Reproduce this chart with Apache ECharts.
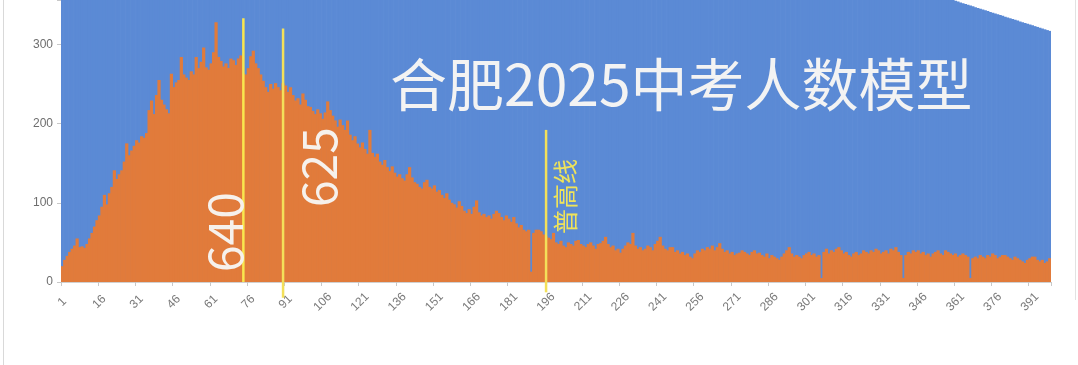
<!DOCTYPE html>
<html>
<head>
<meta charset="utf-8">
<script src="https://cdn.jsdelivr.net/npm/echarts@6/dist/echarts.min.js"></script>
<style>
html,body{margin:0;padding:0;background:#ffffff;}
#main{width:1078px;height:365px;}
</style>
</head>
<body>
<div id="main"></div>
<script>
// ---- data ----
const categories = [];
for (let i = 1; i <= 399; i++) categories.push(String(i));

const titleText = '合肥2025中考人数模型';

const yTicks = [0, 100, 200, 300];

// blue background series (mostly above the visible range)
const blueValues = [
715,714,713,712,711,710,709,708,707,706,705,704,703,702,701,700,699,698,697,696,
695,694,693,692,691,690,689,688,687,686,685,684,683,682,681,680,679,678,677,676,
675,674,673,672,671,670,669,668,667,666,665,664,663,662,661,660,659,658,657,656,
655,654,653,652,651,650,649,648,647,646,645,644,643,642,641,640,639,638,637,636,
635,634,633,632,631,630,629,628,627,626,625,624,623,622,621,620,619,618,617,616,
615,614,613,612,611,610,609,608,607,606,605,604,603,602,601,600,599,598,597,596,
595,594,593,592,591,590,589,588,587,586,585,584,583,582,581,580,579,578,577,576,
575,574,573,572,571,570,569,568,567,566,565,564,563,562,561,560,559,558,557,556,
555,554,553,552,551,550,549,548,547,546,545,544,543,542,541,540,539,538,537,536,
535,534,533,532,531,530,529,528,527,526,525,524,523,522,521,520,519,518,517,516,
515,514,513,512,511,510,509,508,507,506,505,504,503,502,501,500,499,498,497,496,
495,494,493,492,491,490,489,488,487,486,485,484,483,482,481,480,479,478,477,476,
475,474,473,472,471,470,469,468,467,466,465,464,463,462,461,460,459,458,457,456,
455,454,453,452,451,450,449,448,447,446,445,444,443,442,441,440,439,438,437,436,
435,434,433,432,431,430,429,428,427,426,425,424,423,422,421,420,419,418,417,416,
415,414,413,412,411,410,409,408,407,406,405,404,403,402,401,400,399,398,397,396,
395,394,393,392,391,390,389,388,387,386,385,384,383,382,381,380,379,378,377,376,
375,374,373,372,371,370,369,368,367,366,365,364,363,362,361,360,359,358,357,356,
355,354,353,352,351,350,349,348,347,346,345,344,343,342,341,340,339,338,337,336,
335,334,333,332,331,330,329,328,327,326,325,324,323,322,321,320,319,318,317
];

// orange: number of students per rank bucket
const orangeValues = [
20,28,33,38,42,46,55,44,45,43,
48,55,62,70,78,84,95,110,98,112,
120,141,130,136,141,152,175,160,166,172,
179,176,184,182,188,217,229,212,236,255,
230,224,218,213,263,246,252,255,284,262,
258,255,266,262,284,270,278,296,271,268,
276,290,328,284,279,272,276,270,282,280,
274,282,286,263,262,270,285,292,276,270,
262,254,246,240,250,244,251,246,242,251,
248,240,246,236,229,232,224,238,230,222,
221,216,212,218,213,206,214,228,217,210,
204,196,205,198,192,204,186,179,184,175,
170,176,168,162,192,163,158,162,152,148,
154,145,140,146,138,133,136,131,128,136,
145,132,126,124,120,118,126,129,120,118,
122,114,116,110,106,112,104,100,98,94,
102,96,90,87,92,86,95,103,88,84,
86,82,84,80,86,90,87,82,78,84,
80,76,82,74,69,72,66,64,66,13,
62,66,66,64,60,58,56,54,62,50,
48,52,46,44,50,48,46,52,53,48,
46,44,48,50,46,42,48,49,52,57,
48,44,46,40,42,37,42,46,50,48,
62,46,42,44,40,42,46,44,40,48,
52,57,46,42,40,44,44,38,40,36,
38,34,36,32,30,36,40,38,42,40,
44,42,46,40,44,49,42,38,40,36,
38,34,36,37,40,38,36,34,38,40,
36,37,34,32,36,30,34,32,30,28,
32,36,40,44,36,32,34,32,30,34,
36,38,34,36,32,34,5,38,42,36,
40,38,42,44,40,36,38,34,32,36,
38,34,36,40,38,36,40,38,42,40,
36,38,40,36,42,40,44,38,34,5,
34,38,36,40,38,40,36,38,34,36,
32,36,38,40,36,34,40,38,36,34,
36,32,34,36,34,32,5,30,32,30,
34,32,30,34,32,36,34,30,32,34,
34,32,30,28,32,30,28,26,24,28,
30,32,32,28,26,28,24,26,30
];

// reference lines
const markerCategories = ['74', '90', '196'];
const markerLabels = ['640', '625', '普高线'];

// ---- styles / layout for reference lines (not data) ----
const markerStyle = [
  { top: 333, bottom: 0,   labelY: 63,  dx: -19, size: 48, color: '#f6f1ec', lineColor: '#f9e64e' },
  { top: 320, bottom: -20, labelY: 145, dx: 36,  size: 48, color: '#f6f1ec', lineColor: '#f3e05a' },
  { top: 192, bottom: -13, labelY: 108, dx: 19,  size: 25, color: '#efe35a', lineColor: '#f3e05a' }
];

const chart = echarts.init(document.getElementById('main'), null, { renderer: 'canvas' });

const option = {
  animation: false,
  backgroundColor: '#ffffff',
  title: {
    text: titleText,
    left: 385,
    top: 51,
    textStyle: {
      color: '#f3f3f3',
      fontSize: 57,
      fontWeight: 'normal',
      fontFamily: 'Noto Sans CJK SC'
    }
  },
  grid: { left: 61, top: 0, width: 990, height: 282, containLabel: false },
  xAxis: {
    type: 'category',
    data: categories,
    boundaryGap: true,
    axisLine: { show: true, lineStyle: { color: '#d0d0d0', width: 1 } },
    axisTick: { show: true, interval: 14, length: 4, lineStyle: { color: '#c8c8c8' } },
    axisLabel: {
      interval: 14,
      rotate: 45,
      align: 'center',
      verticalAlign: 'middle',
      color: '#7a7a7a',
      fontSize: 12,
      fontFamily: 'Liberation Sans',
      margin: 20
    },
    splitLine: { show: false }
  },
  yAxis: {
    type: 'value',
    min: 0,
    max: 356,
    interval: 100,
    axisLine: { show: true, lineStyle: { color: '#d0d0d0' } },
    axisTick: { show: true, length: 4, lineStyle: { color: '#c8c8c8' } },
    axisLabel: {
      color: '#6e6e6e',
      fontSize: 12,
      fontFamily: 'Liberation Sans',
      margin: 8,
      formatter: function (v) { return yTicks.indexOf(v) >= 0 ? String(v) : ''; }
    },
    splitLine: { show: false }
  },
  series: [
    {
      type: 'bar',
      data: blueValues,
      barGap: '-100%',
      barWidth: 3.2,
      clip: true,
      itemStyle: { color: '#5b8ad5' },
      silent: true
    },
    {
      type: 'bar',
      data: orangeValues,
      barGap: '-100%',
      barWidth: 3.2,
      clip: true,
      itemStyle: { color: '#e17b3b' },
      silent: true
    },
    {
      type: 'custom',
      clip: false,
      z: 10,
      data: markerCategories.map(function (c, i) { return [c, 0, markerLabels[i]]; }),
      encode: { x: 0, y: 1 },
      renderItem: function (params, api) {
        const s = markerStyle[params.dataIndex];
        const idx = api.value(0);
        const pTop = api.coord([idx, s.top]);
        const pBot = api.coord([idx, s.bottom]);
        const pLab = api.coord([idx, s.labelY]);
        return {
          type: 'group',
          children: [
            {
              type: 'line',
              shape: { x1: pTop[0], y1: pTop[1], x2: pBot[0], y2: pBot[1] },
              style: { stroke: s.lineColor, lineWidth: 2.5 }
            },
            {
              type: 'text',
              x: pTop[0] + s.dx,
              y: pLab[1],
              rotation: Math.PI / 2,
              style: {
                text: markerLabels[params.dataIndex],
                fill: s.color,
                fontSize: s.size,
                fontFamily: 'Noto Sans CJK SC',
                align: 'center',
                verticalAlign: 'middle'
              }
            }
          ]
        };
      }
    }
  ],
  graphic: [
    { type: 'line', shape: { x1: 3.5, y1: 0, x2: 3.5, y2: 365 }, style: { stroke: '#d9d9d9', lineWidth: 1 } },
    { type: 'line', shape: { x1: 1075.5, y1: 0, x2: 1075.5, y2: 300 }, style: { stroke: '#e2e2e2', lineWidth: 1 } }
  ]
};

chart.setOption(option);
</script>
</body>
</html>
